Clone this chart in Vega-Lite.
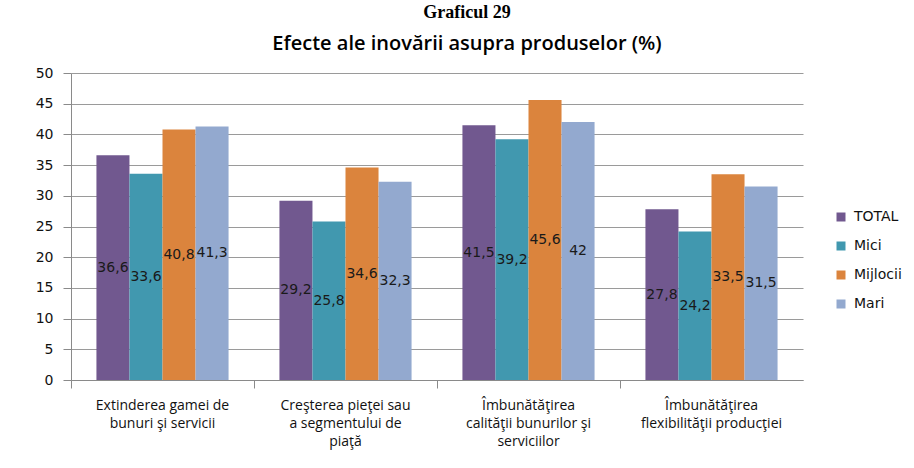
{
  "$schema": "https://vega.github.io/schema/vega-lite/v6.json",
  "width": 732,
  "height": 307,
  "autosize": {"type": "none"},
  "padding": {"left": 71, "top": 73, "right": 111, "bottom": 88},
  "background": "white",
  "config": {
    "view": {"stroke": null},
    "locale": {"number": {"decimal": ",", "thousands": ".", "grouping": [3], "currency": ["", ""]}}
  },
  "title": {
    "text": "Graficul 29",
    "subtitle": "Efecte ale inovării asupra produselor (%)",
    "font": "Liberation Serif",
    "fontSize": 18,
    "fontWeight": "bold",
    "color": "#000000",
    "subtitleFont": "Open Sans",
    "subtitleFontSize": 20,
    "subtitleFontWeight": 600,
    "subtitleColor": "#000000",
    "subtitlePadding": 12,
    "anchor": "middle",
    "offset": 12,
    "dx": 30
  },
  "data": {
    "values": [
      {"cat": "Extinderea gamei de|bunuri şi servicii", "serie": "TOTAL", "value": 36.6},
      {"cat": "Extinderea gamei de|bunuri şi servicii", "serie": "Mici", "value": 33.6},
      {"cat": "Extinderea gamei de|bunuri şi servicii", "serie": "Mijlocii", "value": 40.8},
      {"cat": "Extinderea gamei de|bunuri şi servicii", "serie": "Mari", "value": 41.3},
      {"cat": "Creşterea pieţei sau|a segmentului de|piaţă", "serie": "TOTAL", "value": 29.2},
      {"cat": "Creşterea pieţei sau|a segmentului de|piaţă", "serie": "Mici", "value": 25.8},
      {"cat": "Creşterea pieţei sau|a segmentului de|piaţă", "serie": "Mijlocii", "value": 34.6},
      {"cat": "Creşterea pieţei sau|a segmentului de|piaţă", "serie": "Mari", "value": 32.3},
      {"cat": "Îmbunătăţirea|calităţii bunurilor şi|serviciilor", "serie": "TOTAL", "value": 41.5},
      {"cat": "Îmbunătăţirea|calităţii bunurilor şi|serviciilor", "serie": "Mici", "value": 39.2},
      {"cat": "Îmbunătăţirea|calităţii bunurilor şi|serviciilor", "serie": "Mijlocii", "value": 45.6},
      {"cat": "Îmbunătăţirea|calităţii bunurilor şi|serviciilor", "serie": "Mari", "value": 42},
      {"cat": "Îmbunătăţirea|flexibilităţii producţiei", "serie": "TOTAL", "value": 27.8},
      {"cat": "Îmbunătăţirea|flexibilităţii producţiei", "serie": "Mici", "value": 24.2},
      {"cat": "Îmbunătăţirea|flexibilităţii producţiei", "serie": "Mijlocii", "value": 33.5},
      {"cat": "Îmbunătăţirea|flexibilităţii producţiei", "serie": "Mari", "value": 31.5}
    ]
  },
  "encoding": {
    "x": {
      "field": "cat",
      "type": "nominal",
      "sort": null,
      "scale": {"paddingInner": 0, "paddingOuter": 0},
      "axis": {
        "title": null,
        "labelAngle": 0,
        "labelExpr": "split(datum.label, '|')",
        "labelFont": "Open Sans",
        "labelFontSize": 14,
        "labelColor": "#111111",
        "labelLineHeight": 18,
        "labelPadding": 10,
        "labelLimit": 220,
        "labelBaseline": "top",
        "bandPosition": 0,
        "tickSize": 8,
        "tickColor": "#8a8a8a",
        "domainColor": "#8a8a8a",
        "grid": false
      }
    },
    "xOffset": {
      "field": "serie",
      "type": "nominal",
      "sort": ["TOTAL", "Mici", "Mijlocii", "Mari"],
      "scale": {"paddingInner": 0, "paddingOuter": 0.77}
    }
  },
  "layer": [
    {
      "mark": {"type": "bar"},
      "encoding": {
        "y": {
          "field": "value",
          "type": "quantitative",
          "scale": {"domain": [0, 50]},
          "axis": {
            "title": null,
            "values": [0, 5, 10, 15, 20, 25, 30, 35, 40, 45, 50],
            "labelOverlap": false,
            "labelFont": "DejaVu Sans",
            "labelFontSize": 14,
            "labelColor": "#111111",
            "labelPadding": 10,
            "tickSize": 8,
            "tickColor": "#8a8a8a",
            "domainColor": "#8a8a8a",
            "gridColor": "#9a9a9a",
            "gridWidth": 1
          }
        },
        "color": {
          "field": "serie",
          "type": "nominal",
          "sort": ["TOTAL", "Mici", "Mijlocii", "Mari"],
          "scale": {"domain": ["TOTAL", "Mici", "Mijlocii", "Mari"], "range": ["#71588F", "#4198AF", "#DB843D", "#93A9CF"]},
          "legend": {
            "title": null,
            "orient": "none",
            "legendX": 763,
            "legendY": 137,
            "padding": 0,
            "symbolType": "square",
            "symbolSize": 81,
            "symbolStrokeWidth": 0,
            "labelFont": "DejaVu Sans",
            "labelFontSize": 14,
            "labelColor": "#111111",
            "labelOffset": 6,
            "rowPadding": 15
          }
        }
      }
    },
    {
      "transform": [{"calculate": "datum.value / 2", "as": "mid"}],
      "mark": {"type": "text", "font": "DejaVu Sans", "fontSize": 14, "color": "#1a1a1a", "baseline": "middle"},
      "encoding": {
        "y": {
          "field": "mid",
          "type": "quantitative",
          "axis": {
            "title": null,
            "values": [0, 5, 10, 15, 20, 25, 30, 35, 40, 45, 50],
            "labelOverlap": false,
            "labelFont": "DejaVu Sans",
            "labelFontSize": 14,
            "labelColor": "#111111",
            "labelPadding": 10,
            "tickSize": 8,
            "tickColor": "#8a8a8a",
            "domainColor": "#8a8a8a",
            "gridColor": "#9a9a9a",
            "gridWidth": 1
          }
        },
        "text": {"field": "value", "type": "quantitative", "format": ".1~f"}
      }
    }
  ]
}
